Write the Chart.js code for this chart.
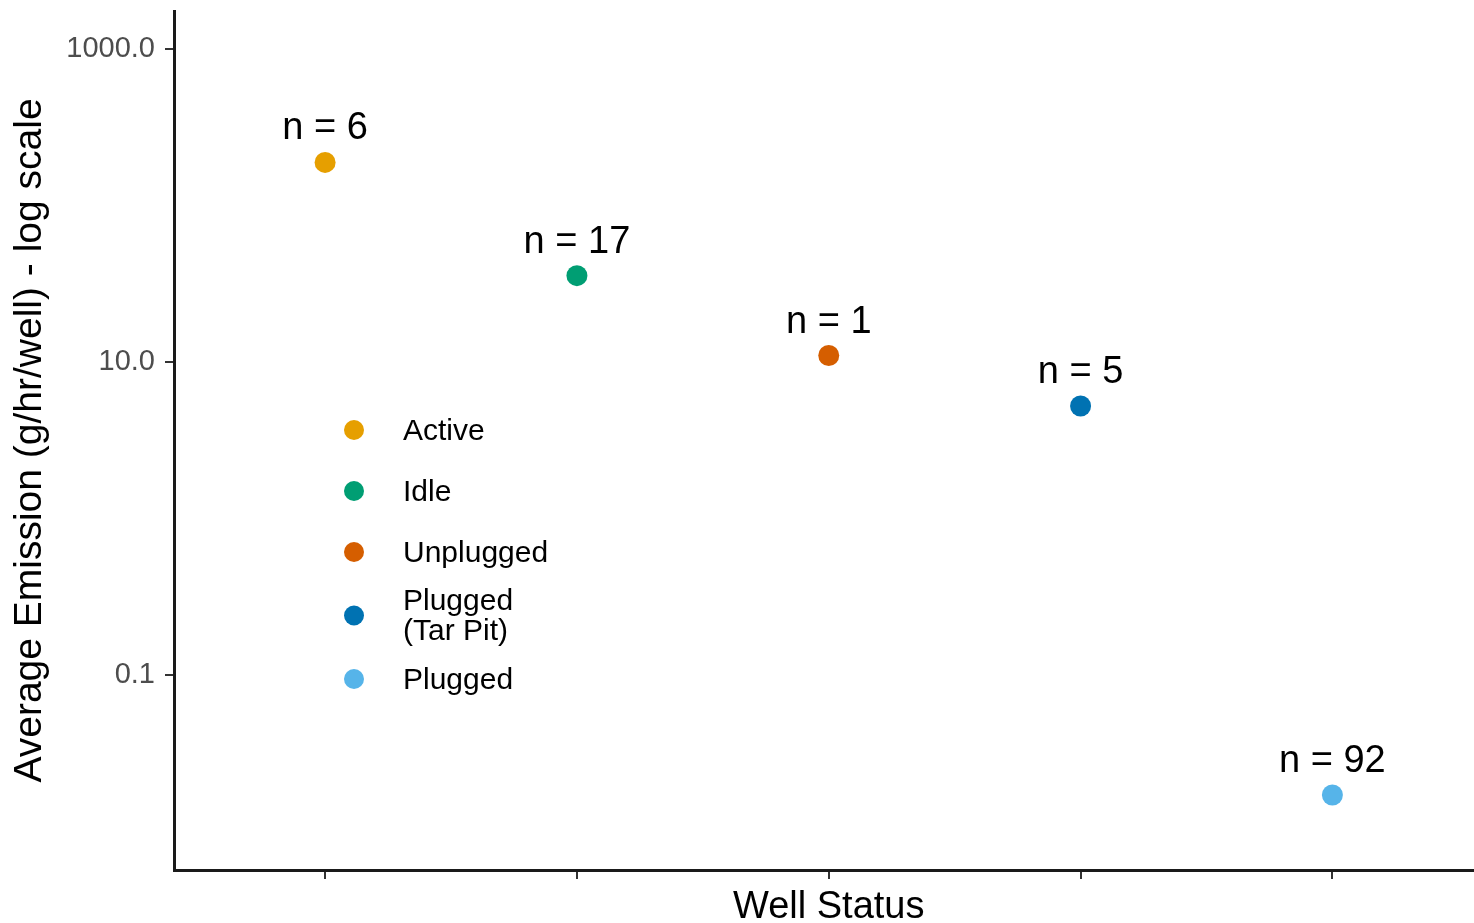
<!DOCTYPE html>
<html><head><meta charset="utf-8">
<script src="https://cdn.jsdelivr.net/npm/chart.js@4/dist/chart.umd.min.js"></script>
<style>
html,body{margin:0;padding:0;background:#fff;overflow:hidden;}
#wrap{width:1474px;height:923px;overflow:hidden;position:relative;}
canvas{display:block;}
</style></head><body>
<div id="wrap"><canvas id="c" width="1494" height="923" style="width:1494px;height:923px;"></canvas></div>
<script>
const categories = ['Active', 'Idle', 'Unplugged', 'Plugged (Tar Pit)', 'Plugged'];
const legendLabels = [['Active'], ['Idle'], ['Unplugged'], ['Plugged', '(Tar Pit)'], ['Plugged']];
const avgEmission = [188, 35.6, 11.0, 5.24, 0.0172];
const sampleCounts = [6, 17, 1, 5, 92];
const pointColors = ['#E69F00', '#009E73', '#D55E00', '#0072B2', '#56B4E9'];
const yTickValues = [1000, 10, 0.1];
const yTickLabels = ['1000.0', '10.0', '0.1'];
const yMin = 0.00571, yMax = 1742;
const xTitle = 'Well Status';
const yTitle = 'Average Emission (g/hr/well) - log scale';

const FONT = '"Liberation Sans", Arial, Helvetica, sans-serif';

const annotPlugin = {
  id: 'annot',
  afterDatasetsDraw(chart) {
    const ctx = chart.ctx;
    const meta = chart.getDatasetMeta(0);
    ctx.save();
    ctx.font = '38px ' + FONT;
    ctx.fillStyle = '#000';
    ctx.textAlign = 'center';
    ctx.textBaseline = 'alphabetic';
    meta.data.forEach((pt, i) => {
      ctx.fillText('n = ' + sampleCounts[i], pt.x, pt.y - 23);
    });
    const keyX = 354, textX = 403, lineH = 30;
    let cy = 430, prevH = null;
    ctx.font = '30px ' + FONT;
    ctx.textAlign = 'left';
    ctx.textBaseline = 'middle';
    legendLabels.forEach((lines, i) => {
      const h = 61 + (lines.length - 1) * 5;
      if (prevH !== null) cy += (prevH + h) / 2;
      prevH = h;
      ctx.beginPath();
      ctx.arc(keyX, cy, 10, 0, Math.PI * 2);
      ctx.fillStyle = pointColors[i];
      ctx.fill();
      ctx.fillStyle = '#000';
      lines.forEach((t, j) => {
        ctx.fillText(t, textX, cy + 1.5 + (j - (lines.length - 1) / 2) * lineH);
      });
    });
    ctx.restore();
  }
};

function noPad(scale) {
  scale.paddingTop = 0; scale.paddingBottom = 0;
  scale.paddingLeft = 0; scale.paddingRight = 0;
}

new Chart(document.getElementById('c'), {
  type: 'scatter',
  data: {
    datasets: [{
      label: 'Average Emission',
      data: categories.map((c, i) => ({ x: i, y: avgEmission[i] })),
      backgroundColor: pointColors,
      borderWidth: 0,
      pointRadius: 10.5,
      pointHoverRadius: 10.5
    }]
  },
  options: {
    responsive: false,
    animation: false,
    devicePixelRatio: 1,
    layout: { padding: { left: 0, top: 11, right: 1, bottom: 0 } },
    plugins: { legend: { display: false }, tooltip: { enabled: false } },
    scales: {
      x: {
        type: 'linear',
        min: -0.6,
        max: 4.6,
        bounds: 'data',
        afterBuildTicks: (axis) => { axis.ticks = categories.map((c, i) => ({ value: i })); },
        afterFit: (scale) => { scale.height = 53; noPad(scale); },
        ticks: { display: false },
        grid: { display: true, drawOnChartArea: false, drawTicks: true, tickLength: 9, color: '#333', lineWidth: 2 },
        border: { display: true, color: '#1a1a1a', width: 3 },
        title: { display: true, text: xTitle, color: '#000', font: { family: FONT, size: 38, lineHeight: 1 }, padding: { top: 0, bottom: -4 } }
      },
      y: {
        type: 'logarithmic',
        min: yMin,
        max: yMax,
        bounds: 'data',
        afterBuildTicks: (axis) => { axis.ticks = yTickValues.slice().reverse().map(v => ({ value: v })); },
        afterFit: (scale) => { scale.width = 174; noPad(scale); },
        ticks: {
          color: '#4d4d4d',
          font: { family: FONT, size: 29 },
          padding: 10,
          callback: (v) => { const k = yTickValues.indexOf(v); return k >= 0 ? yTickLabels[k] : ''; }
        },
        grid: { display: true, drawOnChartArea: false, drawTicks: true, tickLength: 9, color: '#333', lineWidth: 2 },
        border: { display: true, color: '#1a1a1a', width: 3 },
        title: { display: true, text: yTitle, color: '#000', font: { family: FONT, size: 39, lineHeight: 1 }, padding: { top: 11, bottom: 0 } }
      }
    }
  },
  plugins: [annotPlugin]
});
</script>
</body></html>
